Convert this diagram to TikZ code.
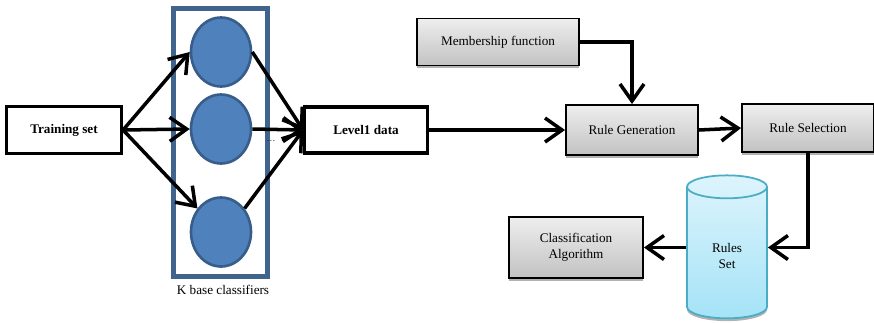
\documentclass[tikz,border=0pt]{standalone}
\usepackage{fontspec}
\setmainfont{Liberation Serif}
\usetikzlibrary{arrows.meta, shapes.geometric, shadows}

\definecolor{clffill}{HTML}{4F81BD}
\definecolor{clfedge}{HTML}{385D8A}
\definecolor{frameblue}{HTML}{41648F}
\definecolor{cyledge}{HTML}{4BACC6}
\definecolor{cyltop}{HTML}{DDF4FC}
\definecolor{cylbot}{HTML}{A5E3F7}
\definecolor{boxtop}{HTML}{EEEEEE}
\definecolor{boxbot}{HTML}{C2C2C2}

\begin{document}
\begin{tikzpicture}[x=0.02cm, y=-0.02cm, font=\fontsize{7.5}{9}\selectfont,
		blackbox/.style={rectangle, draw, line width=1.8pt, font=\fontsize{7.5}{9}\selectfont\bfseries},
		graybox/.style={rectangle, draw, line width=1.1pt, align=center, top color=boxtop, bottom color=boxbot,
			general shadow={fill=gray!60, shadow yshift=-1.6pt}},
		clf/.style={ellipse, draw=clfedge, fill=clffill, line width=1.5pt, minimum width=1.2cm, minimum height=1.38cm},
		flow/.style={-{Straight Barb[length=3.4mm, width=4.8mm]}, line width=2pt}]
		\useasboundingbox (0,0) rectangle (874,322);
		
		%Left part
		\node[blackbox, minimum width=2.3cm, minimum height=0.93cm] (train) at (64,130) {Training set};
		\node[draw=frameblue, line width=2.4pt, minimum width=1.88cm, minimum height=5.36cm] (kbox) at (220.5,142.5) {};
		\node[clf] (c1) at (221,52) {};
		\node[clf] (c2) at (221,129) {};
		\node[clf] (c3) at (221,232) {};
		\node (klabel) at (223,290) {K base classifiers};
		\node[font=\fontsize{5}{6}\selectfont] (dots) at (271,141) {\dots};
		\node[blackbox, minimum width=2.45cm, minimum height=0.92cm] (level) at (366,130) {Level1 data};
		
		%Right part
		\node[graybox, minimum width=3.25cm, minimum height=0.94cm] (member) at (498,42) {Membership function};
		\node[graybox, minimum width=2.64cm, minimum height=1cm] (rgen) at (632,130) {Rule Generation};
		\node[graybox, minimum width=2.64cm, minimum height=0.96cm] (rsel) at (808,128) {Rule Selection};
		\node[cylinder, shape border rotate=90, aspect=0.55, draw=cyledge, line width=1pt, top color=cyltop, bottom color=cylbot,
			general shadow={fill=gray!60, shadow yshift=-1.6pt}, align=center,
			minimum width=1.6cm, minimum height=2.86cm] (rset) at (727,256) {Rules\\Set};
		\node[graybox, minimum width=2.68cm, minimum height=1.22cm] (calg) at (576,247.5) {Classification\\Algorithm};
		
		%Arrows
		\draw[flow] (train.east) -- (c1.west);
		\draw[flow] (train.east) -- (c2.west);
		\draw[flow] (train.east) -- (c3.135);
		\draw[flow] (c1.east) -- (level.west);
		\draw[flow] (c2.east) -- (level.west);
		\draw[flow] (c3.45) -- (level.west);
		\draw[flow] (level.east) -- (rgen.west);
		\draw[flow] (member.east) -| (rgen.north);
		\draw[flow] (rgen.east) -- (rsel.west);
		\draw[flow] (rsel.south) |- (rset.east |- calg.east);
		\draw[flow] (rset.west |- calg.east) -- (calg.east);
	\end{tikzpicture}
\end{document}
